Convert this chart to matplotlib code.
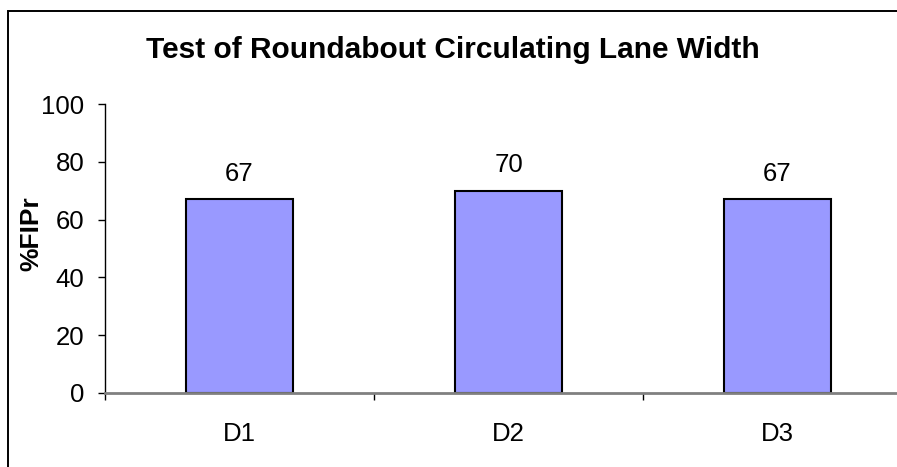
import matplotlib
matplotlib.use("Agg")
import matplotlib.pyplot as plt
from matplotlib.patches import Rectangle

categories = ["D1", "D2", "D3"]
values = [67, 70, 67]
yticks = [0, 20, 40, 60, 80, 100]

plt.rcParams["font.family"] = ["Liberation Sans", "DejaVu Sans"]

W, H = 897, 467
fig = plt.figure(figsize=(W / 100, H / 100), dpi=100)

# chart area frame (runs off the right and bottom edges)
fig.patches.append(Rectangle((8 / W, -0.05), 1.2, (H - 11) / H + 0.05,
                             transform=fig.transFigure, fill=False,
                             edgecolor="black", linewidth=1.4, zorder=0))

left_px, right_px = 105, 912
top_px, bottom_px = 104, 393
ax = fig.add_axes([left_px / W, (H - bottom_px) / H,
                   (right_px - left_px) / W, (bottom_px - top_px) / H])

x = list(range(len(categories)))
bars = ax.bar(x, values, width=0.4, color="#9999FF", edgecolor="black",
              linewidth=1.5, zorder=3)
for xi, v in zip(x, values):
    ax.annotate(f"{v}", (xi, v), xytext=(0, 13.5), textcoords="offset points",
                ha="center", va="baseline", fontsize=18.5)

ax.set_xlim(-0.5, len(categories) - 0.5)
ax.set_ylim(0, 100)
ax.set_yticks(yticks)
ax.tick_params(axis="y", labelsize=18.5, length=5, width=1, direction="out", pad=10)

# category labels centred, tick marks at category boundaries
ax.set_xticks(x)
ax.set_xticklabels(categories, fontsize=18.5)
ax.tick_params(axis="x", which="major", length=0, pad=21)
ax.set_xticks([i + 0.5 for i in range(-1, len(categories))], minor=True)
ax.tick_params(axis="x", which="minor", length=5, width=1, direction="out")

for s in ["top", "right"]:
    ax.spines[s].set_visible(False)
ax.spines["left"].set_color("black")
ax.spines["left"].set_linewidth(1.0)
ax.spines["bottom"].set_color("#808080")
ax.spines["bottom"].set_linewidth(2.0)
ax.spines["bottom"].set_zorder(4)

ax.set_ylabel("%FIPr", fontsize=19, fontweight="bold")
ax.yaxis.set_label_coords(43 / W, 0.5, transform=fig.transFigure)

fig.text(453 / W, (H - 58) / H, "Test of Roundabout Circulating Lane Width",
         ha="center", va="baseline", fontsize=21.5, fontweight="bold")

fig.savefig("out.png", dpi=100)
